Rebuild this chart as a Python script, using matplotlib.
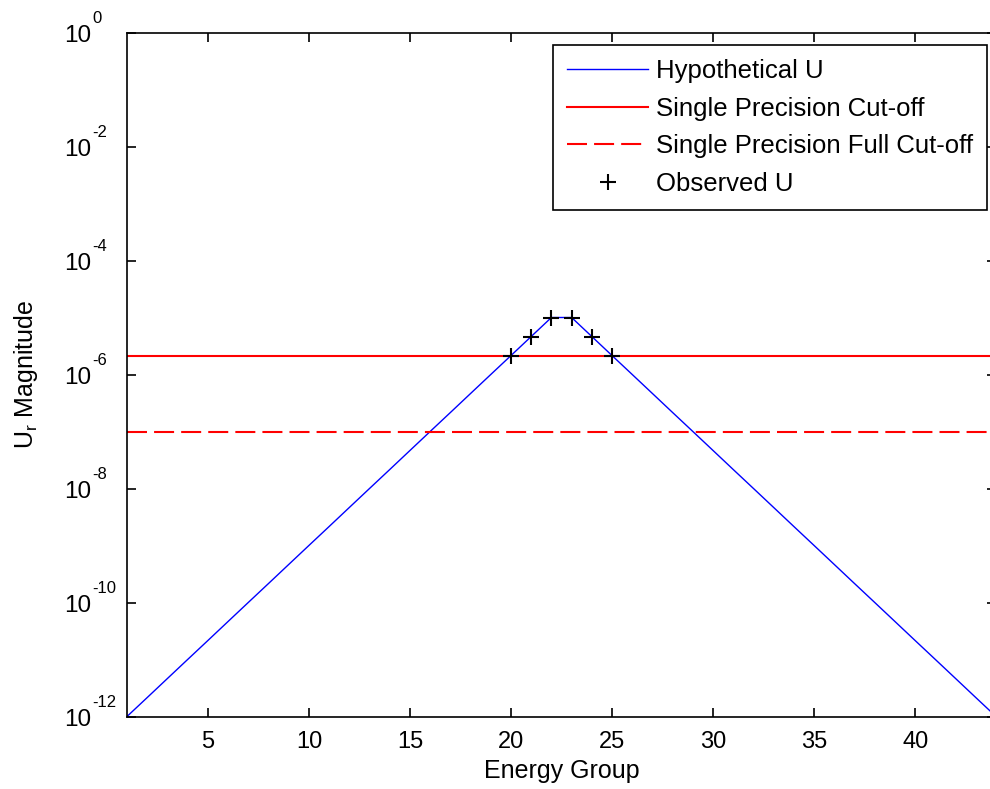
import numpy as np
import matplotlib
matplotlib.use("Agg")
import matplotlib.pyplot as plt

# energy groups and magnitudes
groups = list(range(1, 45))
hyp_u = [1.00e-12, 2.15e-12, 4.64e-12, 1.00e-11, 2.15e-11, 4.64e-11,
         1.00e-10, 2.15e-10, 4.64e-10, 1.00e-9, 2.15e-9, 4.64e-9,
         1.00e-8, 2.15e-8, 4.64e-8, 1.00e-7, 2.15e-7, 4.64e-7,
         1.00e-6, 2.15e-6, 4.64e-6, 1.00e-5, 1.00e-5, 4.64e-6,
         2.15e-6, 1.00e-6, 4.64e-7, 2.15e-7, 1.00e-7, 4.64e-8,
         2.15e-8, 1.00e-8, 4.64e-9, 2.15e-9, 1.00e-9, 4.64e-10,
         2.15e-10, 1.00e-10, 4.64e-11, 2.15e-11, 1.00e-11, 4.64e-12,
         2.15e-12, 1.00e-12]
obs_groups = [20, 21, 22, 23, 24, 25]
obs_u = [2.15e-6, 4.64e-6, 1.00e-5, 1.00e-5, 4.64e-6, 2.15e-6]
cutoff = 2.15e-6
full_cutoff = 1.0e-7

xticks = [5, 10, 15, 20, 25, 30, 35, 40]
y_exponents = [-12, -10, -8, -6, -4, -2, 0]

plt.rcParams['font.family'] = ['Liberation Sans', 'DejaVu Sans']
plt.rcParams['mathtext.default'] = 'regular'

fig = plt.figure(figsize=(9.9, 7.89), dpi=100)
ax = fig.add_axes([127 / 990, 1 - 716.5 / 789, (996 - 127) / 990, (716.5 - 32.5) / 789])

ax.semilogy(groups, hyp_u, '-', color='#0000ff', lw=1.0, label='Hypothetical U')
ax.axhline(cutoff, color='#ff0000', lw=1.5, label='Single Precision Cut-off')
ax.axhline(full_cutoff, color='#ff0000', lw=1.5, ls=(0, (9.6, 3.4)),
           label='Single Precision Full Cut-off')
ax.plot(obs_groups, obs_u, '+', color='black', ms=12, mew=1.5, ls='none',
        label='Observed U')

ax.set_xlim(1, 44)
ax.set_ylim(1e-12, 1)
ax.set_xticks(xticks)
ax.set_yticks([10.0 ** e for e in y_exponents])
ax.set_yticklabels([])
ax.minorticks_off()
ax.tick_params(direction='in', length=6.5, width=1.2, top=True, right=True,
               labelsize=17, pad=10.5)
for s in ax.spines.values():
    s.set_linewidth(1.2)

# matlab style "10^-n" labels with a plain hyphen
for e in y_exponents:
    ax.annotate('10', xy=(0, 10.0 ** e), xycoords=('axes fraction', 'data'),
                xytext=(-26.1, -6.7), textcoords='offset points',
                ha='right', va='baseline', fontsize=17.5)
    ax.annotate('%d' % e, xy=(0, 10.0 ** e), xycoords=('axes fraction', 'data'),
                xytext=(-25.2, 7.0), textcoords='offset points',
                ha='left', va='baseline', fontsize=12)

ax.set_xlabel('Energy Group', fontsize=18, labelpad=4)
ax.set_ylabel(r'U$_\mathregular{r}$ Magnitude', fontsize=18)
ax.yaxis.set_label_coords((40 - 127) / 869, 0.5)

leg = ax.legend(loc='upper right', bbox_to_anchor=(987 / 990, 1 - 45 / 789),
                bbox_transform=fig.transFigure,
                fontsize=18.5, frameon=True, fancybox=False, handlelength=3.15,
                borderaxespad=0.0, labelspacing=0.53, handletextpad=0.3,
                borderpad=0.55)
leg.get_frame().set_edgecolor('black')
leg.get_frame().set_linewidth(1.2)
leg.get_frame().set_alpha(1)

fig.savefig('out.png', dpi=100)
